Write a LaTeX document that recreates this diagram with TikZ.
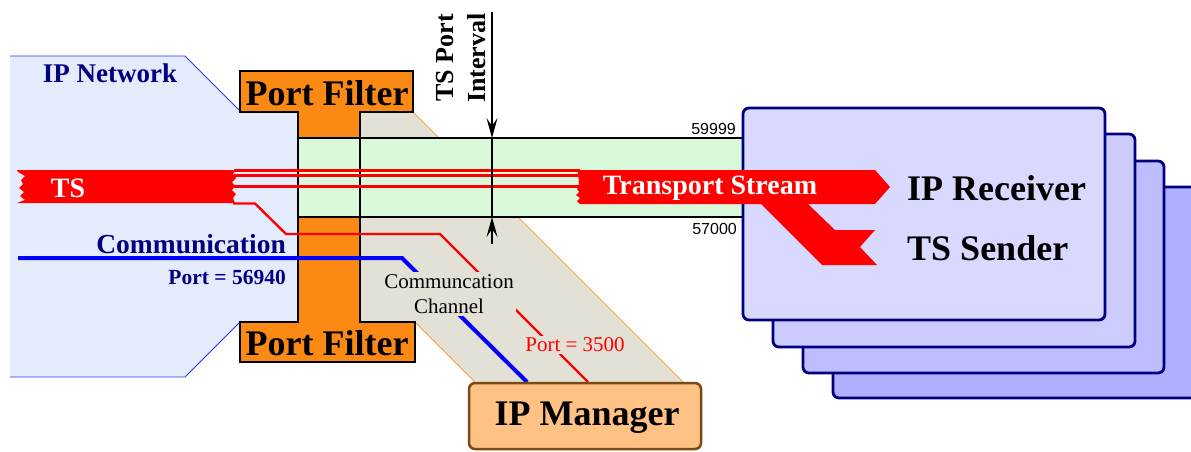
\documentclass[tikz,border=0pt]{standalone}
\usepackage{fontspec}
\setmainfont{Liberation Serif}
\newfontfamily\arialf{Liberation Sans}
\usetikzlibrary{arrows.meta}
\definecolor{netfill}{HTML}{E4EBFD}
\definecolor{netline}{HTML}{2A3AE8}
\definecolor{pforange}{HTML}{FA8A14}
\definecolor{chanfill}{HTML}{E3E0D6}
\definecolor{chanline}{HTML}{F7A040}
\definecolor{bandgreen}{HTML}{DAF8DA}
\definecolor{mgrfill}{HTML}{FFC184}
\definecolor{mgrline}{HTML}{7A4A14}
\definecolor{navy}{HTML}{000080}
\definecolor{boxA}{HTML}{D9D9FF}
\definecolor{boxB}{HTML}{CCCCFF}
\definecolor{boxC}{HTML}{BDBDFF}
\definecolor{boxD}{HTML}{AFAFFF}
\definecolor{tsred}{HTML}{FF0000}
\definecolor{commblue}{HTML}{0000FF}
\tikzset{
  rxbox/.style={draw=navy, line width=2.8pt, rounded corners=6pt},
  pflabel/.style={font=\fontsize{36}{40}\selectfont\bfseries, text=black, inner sep=0pt},
  bigblack/.style={font=\fontsize{36}{40}\selectfont\bfseries, text=black, inner sep=0pt},
  navylabel/.style={text=navy, inner sep=0pt},
  whitelabel/.style={font=\fontsize{28}{32}\selectfont\bfseries, text=white, inner sep=0pt},
  numlabel/.style={font=\arialf\fontsize{16}{18}\selectfont, inner sep=0pt},
  chanlabel/.style={fill=chanfill, inner sep=2pt},
  redthin/.style={draw=tsred, line width=2.6pt},
  intervalarrow/.style={line width=1.4pt, -{Stealth[length=20pt,width=11pt,inset=8pt]}},
}
\begin{document}
\begin{tikzpicture}[x=1pt,y=-1pt]
\useasboundingbox (0,0) rectangle (1191,451);
\clip (0,0) rectangle (1191,451);
% IP network area
\fill[netfill] (10,56) -- (185,56) -- (240,111) -- (298,111) -- (298,322) -- (240,322) -- (185,377) -- (10,377) -- cycle;
\draw[netline, line width=0.9pt] (10,56) -- (185,56) -- (240,111);
\draw[netline, line width=0.9pt] (240,322) -- (185,377) -- (10,377);
% communication channel area
\fill[chanfill] (360,112) -- (413,112) -- (683,382) -- (475,382) -- (415,322) -- (360,322) -- cycle;
\draw[chanline, line width=1pt] (413,112) -- (683,382);
\draw[chanline, line width=1pt] (415,322) -- (475,382);
% port filter
\filldraw[fill=pforange, draw=black, line width=2pt] (240,71) -- (413,71) -- (413,112) -- (360,112) -- (360,322) -- (415,322) -- (415,362) -- (240,362) -- (240,322) -- (298,322) -- (298,112) -- (240,112) -- cycle;
% TS port band
\filldraw[fill=bandgreen, draw=black, line width=1.6pt] (298,138) rectangle (745,217);
\draw[black, line width=2pt] (298,112) -- (298,322);
\draw[black, line width=2pt] (360,112) -- (360,322);
% receiver stack
\filldraw[fill=boxD, rxbox] (833,187) rectangle (1200,398);
\filldraw[fill=boxC, rxbox] (803,161) rectangle (1164,373);
\filldraw[fill=boxB, rxbox] (773,134) rectangle (1135,347);
\filldraw[fill=boxA, rxbox] (743,108) rectangle (1105,320);
% TS band in IP network (torn edges)
\fill[tsred] (17,170) -- (236,170) -- (233,174) -- (236,178) -- (232,182) -- (235,186) -- (232,190) -- (236,194) -- (233,198) -- (235,203) -- (17,203) -- (25,200) -- (20,196) -- (24,192) -- (19,188) -- (23,184) -- (21,180) -- (25,176) -- (18,172) -- cycle;
\draw[redthin] (234,170.5) -- (580,170.5);
\draw[redthin] (234,175.5) -- (580,175.5);
\draw[redthin] (234,186.5) -- (580,186.5);
% transport stream arrow with branch
\fill[tsred] (578,170) -- (875,170) -- (890,187) -- (875,204) -- (808,204) -- (835,230) -- (875,230) -- (860,247) -- (877,265) -- (822,265) -- (761,204) -- (580,204) -- (577,201) -- (580,198) -- (576,195) -- (579,192) -- (577,189) -- (579,186) -- cycle;
% communication lines
\draw[tsred, line width=2.4pt] (233,203.5) -- (255,203.5) -- (286,234) -- (440,234) -- (588,382);
\draw[commblue, line width=4pt] (18,258) -- (402,258) -- (527,382);
% labels on channel
\node[chanlabel, align=center, font=\fontsize{21}{25}\selectfont] (chan) at (449,294) {Communcation\\Channel};
\node[chanlabel, text=tsred, font=\fontsize{21}{24}\selectfont] (p3500) at (575,345) {Port = 3500};
% IP manager
\node[draw=mgrline, fill=mgrfill, line width=2.5pt, rounded corners=6pt, minimum width=232pt, minimum height=66pt, inner sep=0pt] (mgr) at (585,416) {};
\node[bigblack] (mgrtext) at (587,418) {IP Manager};
% port filter labels
\node[pflabel] (pftop) at (327,93) {Port Filter};
\node[pflabel] (pfbot) at (327,343) {Port Filter};
% IP network labels
\node[navylabel, font=\fontsize{27}{30}\selectfont\bfseries] (net) at (110,73) {IP Network};
\node[navylabel, font=\fontsize{27.5}{30}\selectfont\bfseries, anchor=east] (comm) at (286,244) {Communication};
\node[navylabel, font=\fontsize{21.5}{24}\selectfont\bfseries, anchor=east] (p56940) at (286,277) {Port = 56940};
\node[whitelabel] (ts) at (68,188) {TS};
\node[whitelabel] (tstream) at (710,188) {Transport Stream};
% receiver labels
\node[bigblack, anchor=west] (rx) at (907,188) {IP Receiver};
\node[bigblack, anchor=west] (tx) at (907,248) {TS Sender};
% port range numbers
\node[numlabel, anchor=base east] (hi) at (736,134) {59999};
\node[numlabel, anchor=base east] (lo) at (737,234) {57000};
% TS port interval
\coordinate (arrTop) at (492,12);
\coordinate (bandTop) at (492,138);
\coordinate (bandBot) at (492,217);
\coordinate (arrBot) at (492,244);
\draw[intervalarrow] (arrTop) -- (bandTop);
\draw[line width=1.4pt] (bandTop) -- (bandBot);
\draw[intervalarrow] (arrBot) -- (bandBot);
\node[rotate=90, align=center, font=\fontsize{26}{32}\selectfont\bfseries, inner sep=0pt] (interval) at (461,58) {TS Port\\Interval};
\end{tikzpicture}
\end{document}
